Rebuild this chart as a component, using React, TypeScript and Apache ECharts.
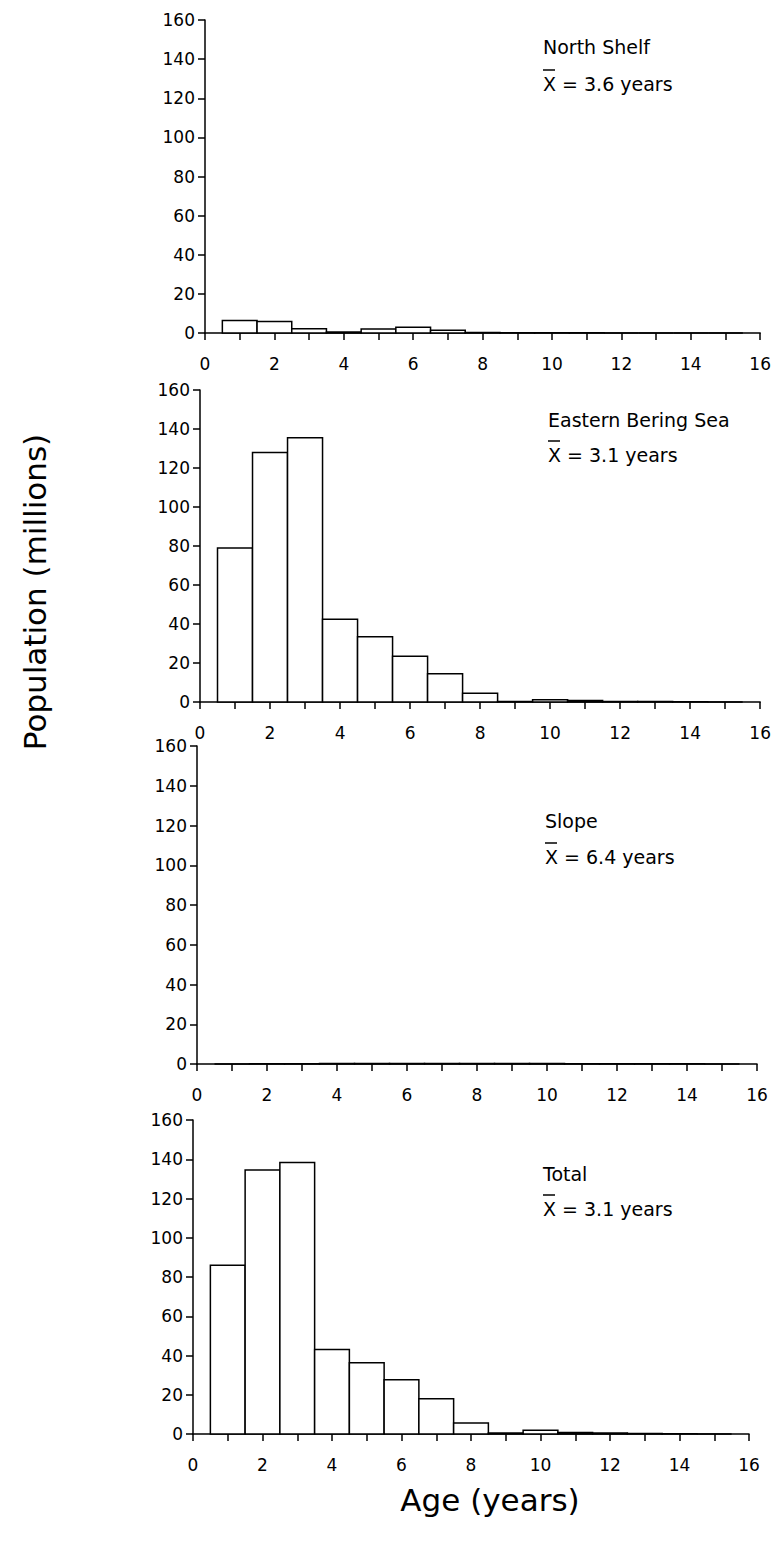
import React, { useEffect, useRef } from "react";
import * as echarts from "echarts";

const ages = [1, 2, 3, 4, 5, 6, 7, 8, 9, 10, 11, 12, 13, 14, 15];
const northShelf = [6.4, 5.9, 2.2, 0.5, 2.0, 3.0, 1.4, 0.3, 0.1, 0.1, 0.1, 0, 0, 0, 0];
const easternBeringSea = [79, 128, 135.5, 42.5, 33.5, 23.5, 14.5, 4.5, 0.3, 1.2, 0.8, 0.3, 0.2, 0.1, 0];
const slope = [0, 0.1, 0.1, 0.2, 0.2, 0.3, 0.3, 0.2, 0.2, 0.2, 0.1, 0.1, 0.1, 0.1, 0];
const total = [86, 134.5, 138.3, 43, 36.3, 27.7, 17.9, 5.6, 0.5, 1.9, 0.8, 0.5, 0.3, 0.1, 0];

const panelNames = ["North Shelf", "Eastern Bering Sea", "Slope", "Total"];
const panelMeans = ["3.6", "3.1", "6.4", "3.1"];
const panelSeries = [northShelf, easternBeringSea, slope, total];
const yTicks = [0, 20, 40, 60, 80, 100, 120, 140, 160];
const xTicks = [0, 2, 4, 6, 8, 10, 12, 14, 16];

const FONT = "DejaVu Sans";

// grid geometry [left, right edge, top(160), bottom(0)]
const grids = [
  { l: 205, r: 763, t: 20, b: 333 },
  { l: 200, r: 762, t: 390, b: 702 },
  { l: 197, r: 757, t: 746, b: 1064 },
  { l: 193, r: 749, t: 1120, b: 1434 },
];
const labelPos = [
  { x: 543, y1: 48, y2: 85 },
  { x: 548, y1: 421, y2: 456 },
  { x: 545, y1: 822, y2: 858 },
  { x: 543, y1: 1175, y2: 1210 },
];

export default function App() {
  const ref = useRef<HTMLDivElement>(null);
  useEffect(() => {
    if (!ref.current) return;
    const chart = echarts.init(ref.current, null, { renderer: "svg" });
    const grid = grids.map((g) => ({
      left: g.l,
      width: g.r - g.l,
      top: g.t,
      height: g.b - g.t,
      containLabel: false,
    }));
    const xAxis = grids.map((_, i) => ({
      type: "value",
      gridIndex: i,
      min: 0,
      max: 16,
      interval: 1,
      axisLine: { show: true, lineStyle: { color: "#000", width: 1.5 } },
      axisTick: { show: true, inside: false, length: 7, lineStyle: { color: "#000", width: 1.5 } },
      splitLine: { show: false },
      axisLabel: {
        color: "#000",
        fontFamily: FONT,
        fontSize: 17,
        margin: 22,
        formatter: (v: number) => (xTicks.includes(v) ? String(v) : ""),
      },
    }));
    const yAxis = grids.map((_, i) => ({
      type: "value",
      gridIndex: i,
      min: 0,
      max: 160,
      interval: 20,
      axisLine: { show: true, lineStyle: { color: "#000", width: 1.5 } },
      axisTick: { show: true, inside: false, length: 7, lineStyle: { color: "#000", width: 1.5 } },
      splitLine: { show: false },
      axisLabel: {
        color: "#000",
        fontFamily: FONT,
        fontSize: 17,
        margin: 10,
        formatter: (v: number) => (yTicks.includes(v) ? String(v) : ""),
      },
    }));
    const series = panelSeries.map((vals, i) => ({
      type: "custom",
      name: panelNames[i],
      xAxisIndex: i,
      yAxisIndex: i,
      data: ages.map((a, j) => [a, vals[j]]),
      renderItem: (params: any, api: any) => {
        const x = api.value(0);
        const y = api.value(1);
        const p0 = api.coord([x - 0.5, y]);
        const p1 = api.coord([x + 0.5, 0]);
        return {
          type: "rect",
          shape: { x: p0[0], y: p0[1], width: p1[0] - p0[0], height: p1[1] - p0[1] },
          style: { fill: "#fff", stroke: "#000", lineWidth: 1.5 },
        };
      },
    }));
    const graphic: any[] = [];
    labelPos.forEach((p, i) => {
      graphic.push({
        type: "text",
        left: p.x,
        top: p.y1 - 11,
        style: { text: panelNames[i], fontFamily: FONT, fontSize: 19, fill: "#000" },
      });
      graphic.push({
        type: "text",
        left: p.x,
        top: p.y2 - 11,
        style: { text: "X = " + panelMeans[i] + " years", fontFamily: FONT, fontSize: 19, fill: "#000" },
      });
      graphic.push({
        type: "line",
        shape: { x1: p.x, y1: p.y2 - 15, x2: p.x + 12, y2: p.y2 - 15 },
        style: { stroke: "#000", lineWidth: 1.5 },
      });
    });
    graphic.push({
      type: "text",
      x: 35,
      y: 592,
      rotation: Math.PI / 2,
      style: {
        text: "Population (millions)",
        fontFamily: FONT,
        fontSize: 31,
        fill: "#000",
        align: "center",
        verticalAlign: "middle",
      },
    });
    graphic.push({
      type: "text",
      x: 490,
      y: 1500,
      style: {
        text: "Age (years)",
        fontFamily: FONT,
        fontSize: 31,
        fill: "#000",
        align: "center",
        verticalAlign: "middle",
      },
    });
    chart.setOption({
      animation: false,
      backgroundColor: "#fff",
      grid,
      xAxis,
      yAxis,
      series,
      graphic,
    });
    return () => chart.dispose();
  }, []);
  return (
    <div
      ref={ref}
      style={{ position: "absolute", left: 0, top: 0, width: 774, height: 1551 }}
    />
  );
}
